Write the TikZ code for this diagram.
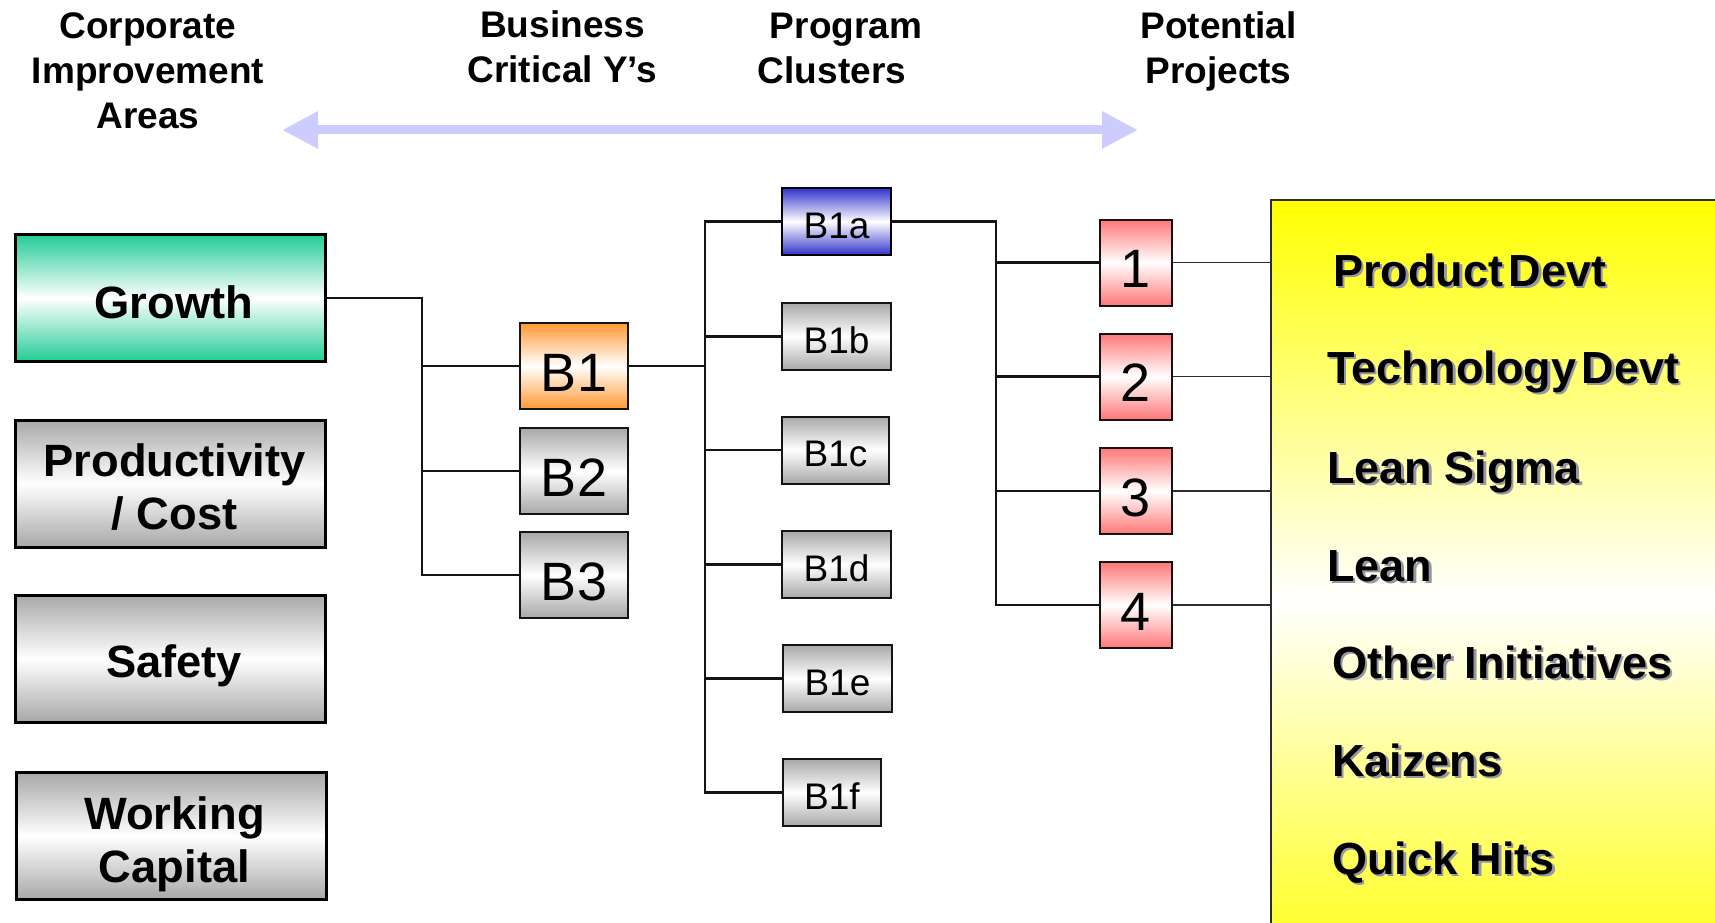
\documentclass[tikz,border=0pt]{standalone}
\usepackage{fontspec}
\setmainfont{Liberation Sans}
\usetikzlibrary{arrows.meta}
\definecolor{cgreen}{RGB}{34,204,150}
\definecolor{cgray}{RGB}{168,168,168}
\definecolor{corange}{RGB}{255,153,51}
\definecolor{cblue}{RGB}{51,51,204}
\definecolor{cpink}{RGB}{255,119,119}
\definecolor{cyel}{RGB}{255,255,0}
\definecolor{carrow}{RGB}{204,204,255}
\definecolor{cshadow}{RGB}{150,150,165}
\definecolor{cline}{RGB}{20,20,20}
\definecolor{cplink}{RGB}{45,45,45}
\newcommand\shtext[3]{%
  \node[ytxt,text=cshadow] at ([xshift=2.5pt,yshift=-2.5pt]#1) {#3};
  \node[ytxt] (#2) at (#1) {#3};}
\newcommand\rs{\hspace*{7pt}}
\begin{document}
\begin{tikzpicture}[x=1pt,y=-1pt,
  bigbox/.style={draw=black,line width=3pt,minimum width=310pt,minimum height=127pt,inner sep=0pt,
    font=\bfseries\fontsize{45.3}{52.5}\selectfont},
  greenfill/.style={top color=cgreen,bottom color=cgreen,middle color=white},
  grayfill/.style={top color=cgray,bottom color=cgray,middle color=white},
  bbox/.style={draw=cline,line width=2pt,minimum width=108pt,minimum height=86pt,inner sep=0pt,
    font=\fontsize{54}{60}\selectfont,text height=50.7pt,text depth=0pt},
  cbox/.style={draw=cline,line width=2pt,minimum width=109pt,minimum height=67pt,inner sep=0pt,
    font=\fontsize{37}{42}\selectfont,text height=33.5pt,text depth=0pt},
  pbox/.style={draw=cline,line width=2pt,minimum width=71.5pt,minimum height=86pt,inner sep=0pt,
    font=\fontsize{54}{60}\selectfont,text height=50.7pt,text depth=0pt,
    top color=cpink,bottom color=cpink,middle color=white},
  head/.style={font=\bfseries\fontsize{37}{45}\selectfont,align=center,inner sep=0pt},
  ytxt/.style={font=\bfseries\fontsize{45}{52}\selectfont,anchor=base west,inner sep=0pt},
  conn/.style={line width=2.4pt,draw=cline},
  plink/.style={line width=1.8pt,draw=cplink},
  yelbox/.style={draw=cplink,line width=2pt,top color=cyel,bottom color=cyel,middle color=white,
    anchor=north west,minimum width=500pt,minimum height=800pt,inner sep=0pt}
]
\useasboundingbox (0,0) rectangle (1715,923);
\clip (0,0) rectangle (1715,923);
\fill[white] (0,0) rectangle (1715,923);

% headings
\node[head] (h1) at (148,70.5) {Corporate\\Improvement\\Areas};
\node[head] (h2) at (562.5,47) {Business\\Critical Y’s};
\node[head] (h3) at (832,48) {\hspace*{28pt}Program\\Clusters};
\node[head] (h4) at (1218.5,51) {Potential\\Projects};

% double arrow
\coordinate (arrL) at (282,130);
\coordinate (arrR) at (1138,130);
\draw[carrow,line width=9pt,{Triangle[length=36pt,width=35pt]}-{Triangle[length=36pt,width=35pt]}] (arrL) -- (arrR);

% yellow panel
\node[yelbox] (yel) at (1270,199) {};

% left boxes
\node[bigbox,greenfill,text height=40.4pt,text depth=0pt] (growth) at (170.5,298) {\rs Growth};
\node[bigbox,grayfill,align=center] (prod) at (170.5,483.5) {\rule{0pt}{39.7pt}\hspace*{8pt}Productivity\\\hspace*{8pt}/ Cost};
\node[bigbox,grayfill,text height=38.4pt,text depth=0pt] (safety) at (170.5,658.5) {\rs Safety};
\node[bigbox,grayfill,align=center] (working) at (171,836) {\rule{0pt}{49.7pt}\rs Working\\\rs Capital};

% B boxes
\node[bbox,top color=corange,bottom color=corange,middle color=white] (b1) at (574,366) {B1};
\node[bbox,grayfill] (b2) at (574,471) {B2};
\node[bbox,grayfill] (b3) at (574,575) {B3};

% cluster boxes
\node[cbox,draw=black,top color=cblue,bottom color=cblue,middle color=white] (b1a) at (836.5,221.5) {B1a};
\node[cbox,grayfill] (b1b) at (836.5,336.5) {B1b};
\node[cbox,grayfill,minimum width=107pt] (b1c) at (835.5,450) {B1c};
\node[cbox,grayfill] (b1d) at (836.5,564.5) {B1d};
\node[cbox,grayfill] (b1e) at (837.5,678.5) {B1e};
\node[cbox,grayfill,minimum width=98pt] (b1f) at (832,792.5) {B1f};

% project boxes
\node[pbox] (p1) at (1136,262.5) {1};
\node[pbox] (p2) at (1136,376.5) {2};
\node[pbox] (p3) at (1136,491) {3};
\node[pbox] (p4) at (1136,605) {4};

% junction columns
\coordinate (jA) at (422,0);
\coordinate (jB) at (705,0);
\coordinate (jC) at (996,0);

% connectors
\draw[conn] (growth.east) -- (growth.east -| jA) -- (b3.west -| jA) -- (b3.west);
\draw[conn] (b1.west -| jA) -- (b1.west);
\draw[conn] (b2.west -| jA) -- (b2.west);

\draw[conn] (b1.east) -- (b1.east -| jB);
\draw[conn] (b1a.west) -- (b1a.west -| jB) -- (b1f.west -| jB) -- (b1f.west);
\foreach \n in {b1b,b1c,b1d,b1e} \draw[conn] (\n.west -| jB) -- (\n.west);

\draw[conn] (b1a.east) -- (b1a.east -| jC) -- (p4.west -| jC) -- (p4.west);
\foreach \n in {p1,p2,p3} \draw[conn] (\n.west -| jC) -- (\n.west);

\foreach \n in {p1,p2,p3,p4} \draw[plink] (\n.east) -- (\n.east -| yel.west);

% panel texts
\shtext{1333,286}{t1}{Product\hskip0.12em Devt}
\shtext{1327,383}{t2}{Technology\hskip0.12em Devt}
\shtext{1327,483}{t3}{Lean Sigma}
\shtext{1327,581}{t4}{Lean}
\shtext{1332,678}{t5}{Other Initiatives}
\shtext{1332,776}{t6}{Kaizens}
\shtext{1332,874}{t7}{Quick Hits}
\end{tikzpicture}
\end{document}
